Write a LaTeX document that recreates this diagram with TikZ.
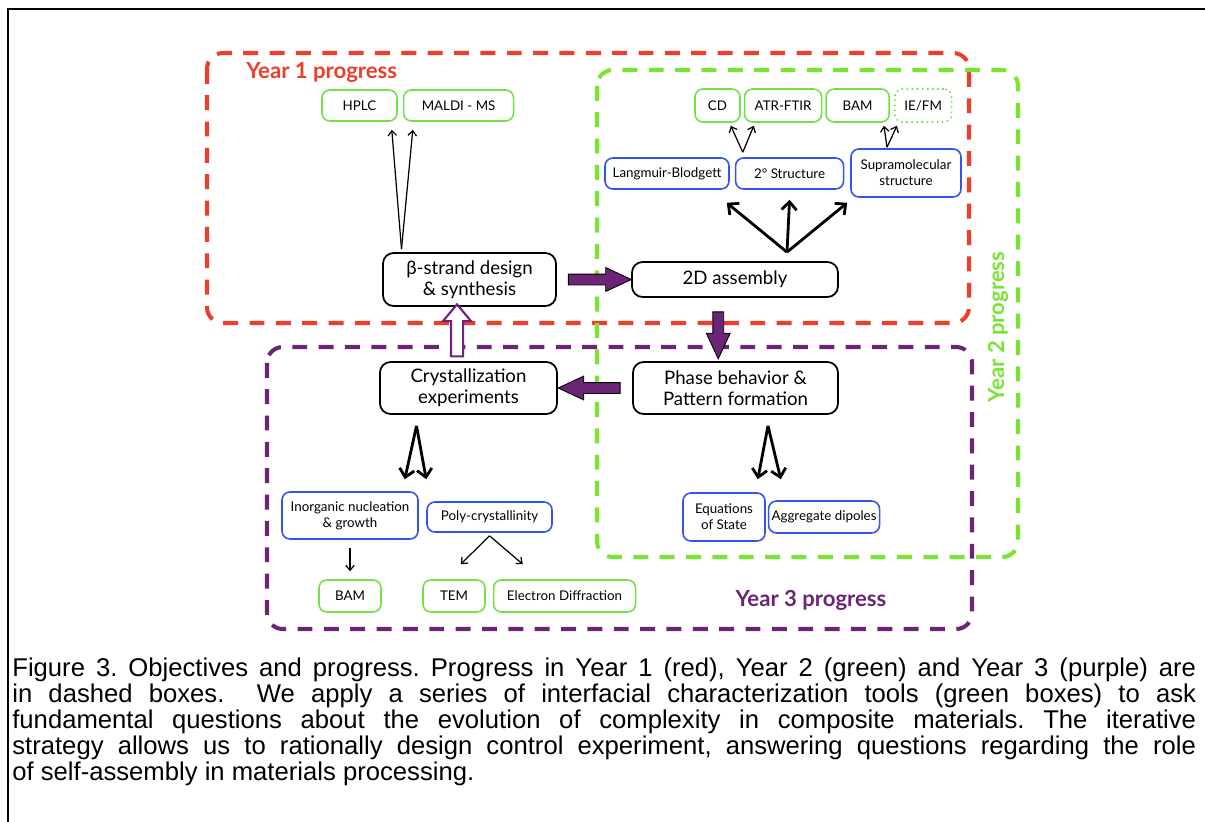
\documentclass[tikz,border=0pt]{standalone}
\usepackage{fontspec}
\setmainfont{Lato}
\newfontfamily\captionfont{Liberation Sans}
\usetikzlibrary{arrows.meta,positioning,calc,shapes.arrows}
\definecolor{yearred}{RGB}{236,62,42}
\definecolor{yeargreen}{RGB}{122,228,50}
\definecolor{yearpurple}{RGB}{108,36,118}
\definecolor{toolgreen}{RGB}{112,226,72}
\definecolor{probeblue}{RGB}{52,84,238}
\tikzset{
  yearframe/.style={line width=2.3pt, rounded corners=9pt, dash pattern=on 8.5pt off 6.5pt},
  yearlabel/.style={font=\fontsize{12.6}{14}\selectfont\bfseries, inner sep=0pt},
  toolbox/.style={draw=toolgreen, line width=0.9pt, rounded corners=4.5pt, align=center, inner sep=1pt, minimum height=0.62cm, font=\fontsize{7.6}{9}\selectfont},
  probebox/.style={toolbox, draw=probeblue},
  stagebox/.style={draw, line width=1pt, rounded corners=6pt, align=center, inner sep=1pt, fill=white, font=\fontsize{10.6}{12.2}\selectfont},
  thinarr/.style={-{Straight Barb[length=0.1cm, width=0.17cm]}, line width=0.7pt},
  fanarr/.style={-{Straight Barb[length=0.16cm, width=0.3cm]}, line width=1.6pt},
  flowarr/.style={single arrow, fill=yearpurple, draw=black, line width=0.5pt, inner sep=0.1cm, single arrow head extend=0.13cm, single arrow tip angle=50},
}

\begin{document}
\begin{tikzpicture}[x=0.02cm, y=-0.02cm]
  \useasboundingbox (0,0) rectangle (1205,822);
  \draw[line width=1.2pt] (8,822) -- (8,9) -- (1205,9);

  % progress frames
  \draw[yearframe, yearred] (207,53) rectangle (969,323);
  \draw[yearframe, yeargreen] (597,70) rectangle (1018,557);
  \draw[yearframe, yearpurple] (267,347) rectangle (972,629);
  \node[yearlabel, text=yearred, anchor=west] (y1) at (246,72) {Year 1 progress};
  \node[yearlabel, text=yeargreen, rotate=90] (y2) at (998,327) {Year 2 progress};
  \node[yearlabel, text=yearpurple] (y3) at (811,600) {Year 3 progress};

  % year 1
  \node[toolbox, minimum width=1.5cm] (hplc) at (359.5,105.5) {HPLC};
  \node[toolbox, minimum width=2.2cm, right=0.1cm of hplc] (maldi) {MALDI - MS};
  \node[stagebox, minimum width=3.46cm, minimum height=1.06cm] (beta) at (469.5,279.5) {β-strand design\\ \& synthesis};

  % year 2
  \node[toolbox, minimum width=0.9cm, minimum height=0.66cm] (cd) at (717.5,105.5) {CD};
  \node[toolbox, minimum width=1.54cm, minimum height=0.66cm, right=0.06cm of cd] (atr) {ATR-FTIR};
  \node[toolbox, minimum width=1.26cm, minimum height=0.66cm, right=0.06cm of atr] (bam1) {BAM};
  \node[toolbox, dotted, minimum width=1.14cm, minimum height=0.66cm, right=0.08cm of bam1] (iefm) {IE/FM};
  \node[probebox, minimum width=2.48cm] (lb) at (667,173.5) {Langmuir-Blodgett};
  \node[probebox, minimum width=2.16cm, right=0.1cm of lb] (sec) {2° Structure};
  \node[probebox, minimum width=2.2cm, minimum height=0.96cm] (supra) at (906,173) {Supramolecular\\ structure};
  \node[stagebox, minimum width=4.12cm, minimum height=0.7cm] (asm) at (735,279.5) {2D assembly};

  % year 3
  \node[stagebox, minimum width=4.1cm, minimum height=1.04cm] (phase) at (735.5,388) {Phase behavior \&\\ Pattern formation};
  \node[stagebox, minimum width=3.54cm, minimum height=1.04cm] (cryst) at (468.5,388) {Crystallization\\ experiments};
  \node[probebox, minimum width=2.72cm, minimum height=0.94cm] (inorg) at (350,515.5) {Inorganic nucleation\\ \& growth};
  \node[probebox, minimum width=2.5cm, minimum height=0.6cm] (poly) at (489.5,517) {Poly-crystallinity};
  \node[toolbox, minimum width=1.24cm, minimum height=0.64cm] (bam3) at (350,596) {BAM};
  \node[toolbox, minimum width=1.24cm, minimum height=0.64cm] (tem) at (454,596) {TEM};
  \node[toolbox, minimum width=2.84cm, minimum height=0.64cm, right=0.14cm of tem] (ed) {Electron Diffraction};
  \node[probebox, minimum width=1.64cm, minimum height=0.96cm] (eos) at (724,517) {Equations\\ of State};
  \node[probebox, minimum width=2.22cm, minimum height=0.64cm, right=0.04cm of eos] (aggr) {Aggregate dipoles};

  % main cycle
  \node[flowarr, minimum height=1.26cm] (f1) at ($(beta.east)!0.5!(asm.west)$) {};
  \node[flowarr, shape border rotate=270, minimum height=0.94cm] (f2) at ($(asm.south)!0.5!(phase.north)+(-17,0)$) {};
  \node[flowarr, shape border rotate=180, minimum height=1.24cm] (f3) at ($(phase.west)!0.5!(cryst.east)$) {};
  \node[flowarr, shape border rotate=90, fill=white, draw=yearpurple, line width=1.2pt, single arrow head extend=0.16cm, single arrow tip angle=80, minimum height=1.04cm] (f4) at ($(cryst.north)!0.5!(beta.south)+(-12,0)$) {};

  % characterization arrows
  \coordinate (betatop) at ($(beta.north)+(-68,-3)$);
  \draw[thinarr] (betatop) -- ($(hplc.south east)+(-6,8)$);
  \draw[thinarr] (betatop) -- ($(maldi.south west)+(10,8)$);
  \coordinate (sectop) at ($(sec.north west)+(8,-5)$);
  \draw[thinarr] (sectop) -- ($(cd.south east)+(-10,3)$);
  \draw[thinarr] (sectop) -- ($(atr.south west)+(10,3)$);
  \coordinate (supratop) at ($(supra.north)+(-19,-1)$);
  \draw[thinarr] (supratop) -- ($(bam1.south east)+(-6,3)$);
  \draw[thinarr] (supratop) -- ($(iefm.south west)+(3,3)$);
  \coordinate (asmtop) at ($(asm.north)+(52,-9)$);
  \draw[fanarr] (asmtop) -- ($(lb.south east)+(-3,13)$);
  \draw[fanarr] (asmtop) -- ($(sec.south)+(0,10)$);
  \draw[fanarr] (asmtop) -- ($(supra.south west)+(-3,5)$);
  \coordinate (crystbot) at ($(cryst.south)+(-52,11)$);
  \draw[fanarr] (crystbot) -- ($(inorg.north east)+(-14,-12)$);
  \draw[fanarr] (crystbot) -- ($(poly.north west)+(0,-22)$);
  \coordinate (phasebot) at ($(phase.south)+(32.5,11)$);
  \draw[fanarr] (phasebot) -- ($(eos.north east)+(-8,-13)$);
  \draw[fanarr] (phasebot) -- ($(aggr.north west)+(13,-21)$);
  \draw[thinarr, shorten <=0.16cm, shorten >=0.16cm] (inorg) -- (bam3);
  \coordinate (polybot) at ($(poly.south)+(0,3)$);
  \draw[thinarr] (polybot) -- ($(tem.north east)+(-25,-15)$);
  \draw[thinarr] (polybot) -- ($(ed.north west)+(30,-15)$);

  % caption
  \node[anchor=north west, inner sep=0pt, text width=23.68cm, align=justify, font=\captionfont\fontsize{14.6}{14.75}\selectfont\frenchspacing] (cap) at (12,658)
    {Figure 3. Objectives and progress. Progress in Year 1 (red), Year 2 (green) and Year 3 (purple) are\linebreak
     in dashed boxes. \ We apply a series of interfacial characterization tools (green boxes) to ask\linebreak
     fundamental questions about the evolution of complexity in composite materials. The iterative\linebreak
     strategy allows us to rationally design control experiment, answering questions regarding the role\linebreak
     of self-assembly in materials processing.};
\end{tikzpicture}
\end{document}
